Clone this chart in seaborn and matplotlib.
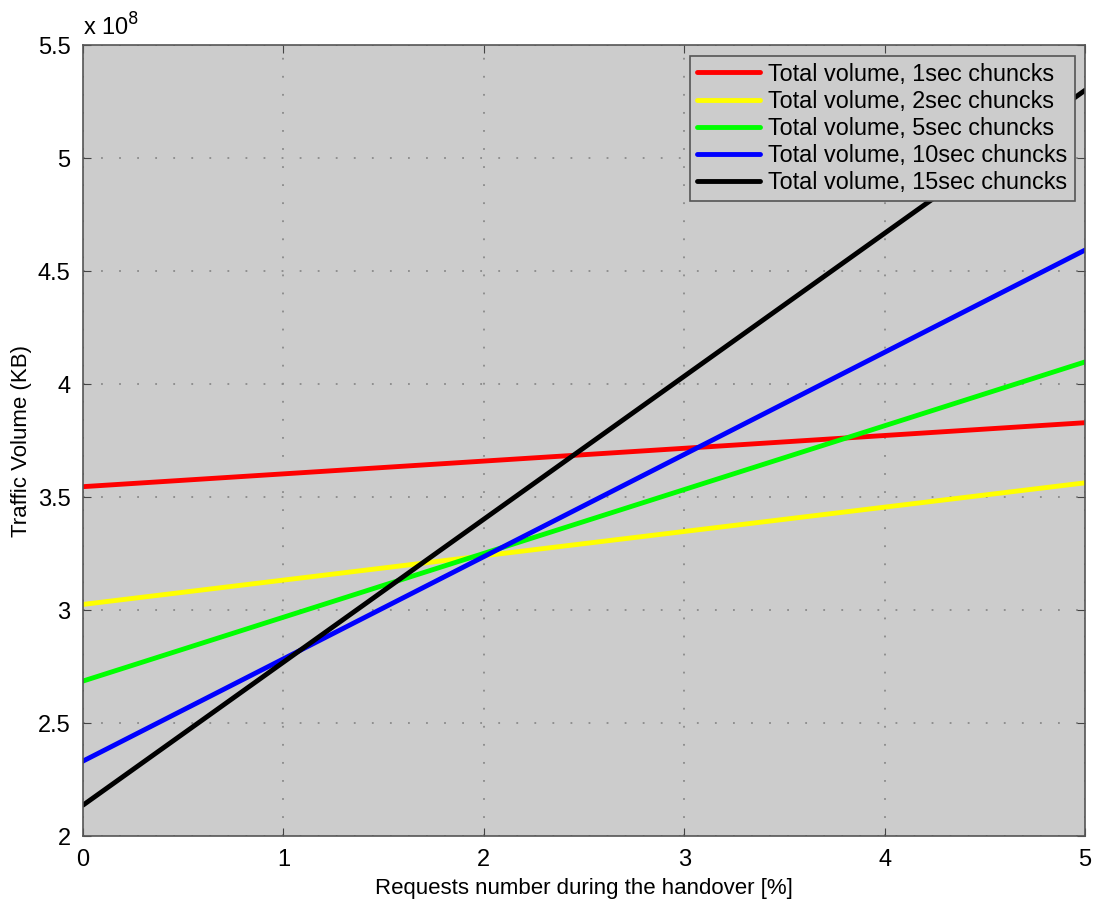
import matplotlib
matplotlib.use("Agg")
import matplotlib.pyplot as plt
import seaborn as sns
import pandas as pd

# Data (traffic volume in units of 1e8 KB)
x_values = [0, 5]
series_labels = [
    "Total volume, 1sec chuncks",
    "Total volume, 2sec chuncks",
    "Total volume, 5sec chuncks",
    "Total volume, 10sec chuncks",
    "Total volume, 15sec chuncks",
]
vol_1s = [3.546, 3.829]
vol_2s = [3.025, 3.563]
vol_5s = [2.686, 4.098]
vol_10s = [2.332, 4.593]
vol_15s = [2.137, 5.30]
series_colors = ["#ff0000", "#ffff00", "#00ff00", "#0000ff", "#000000"]
x_ticks = [0, 1, 2, 3, 4, 5]
y_ticks = [2, 2.5, 3, 3.5, 4, 4.5, 5, 5.5]
y_ticklabels = ["2", "2.5", "3", "3.5", "4", "4.5", "5", "5.5"]

rows = []
for lab, vals in zip(series_labels, [vol_1s, vol_2s, vol_5s, vol_10s, vol_15s]):
    for xv, yv in zip(x_values, vals):
        rows.append({"x": xv, "y": yv, "series": lab})
df = pd.DataFrame(rows)

sns.set_style("ticks")
plt.rcParams['font.family'] = ['Liberation Sans', 'DejaVu Sans']
plt.rcParams['text.color'] = 'black'
plt.rcParams['axes.labelcolor'] = 'black'

fig = plt.figure(figsize=(11, 9), dpi=100)
ax = fig.add_axes([0.0755, 0.071, 0.911, 0.879])
ax.set_facecolor("#cccccc")

sns.lineplot(data=df, x="x", y="y", hue="series", palette=series_colors,
             hue_order=series_labels, linewidth=3.5, ax=ax)

ax.set_xlim(0, 5)
ax.set_ylim(2, 5.5)
ax.set_xticks(x_ticks)
ax.set_yticks(y_ticks)
ax.set_yticklabels(y_ticklabels)
ax.grid(True, color="#8a8a8a", linestyle=(0, (1, 9)), linewidth=1.3)
ax.tick_params(direction="in", length=6, labelsize=17, color="#444444",
               labelcolor="black", top=True, right=True, pad=9)
for s in ax.spines.values():
    s.set_color("#555555")
    s.set_linewidth(1.2)

ax.set_xlabel("Requests number during the handover [%]", fontsize=16, labelpad=5)
ax.set_ylabel("Traffic Volume (KB)", fontsize=16, labelpad=4)
ax.text(0.0, 1.006, "x 10$^{8}$", transform=ax.transAxes, fontsize=17,
        ha="left", va="bottom", color="black")

leg = ax.legend(loc="upper right", fontsize=16.8, frameon=True, fancybox=False,
                handlelength=2.7, borderpad=0.3, labelspacing=0.18,
                handletextpad=0.35, borderaxespad=0.45)
leg.get_frame().set_facecolor("#cccccc")
leg.get_frame().set_edgecolor("#555555")
leg.get_frame().set_alpha(1)
leg.get_frame().set_linewidth(1.2)
for t in leg.get_texts():
    t.set_color("black")
for line in leg.get_lines():
    line.set_linewidth(3.5)

fig.savefig("out.png", dpi=100, facecolor="white")
